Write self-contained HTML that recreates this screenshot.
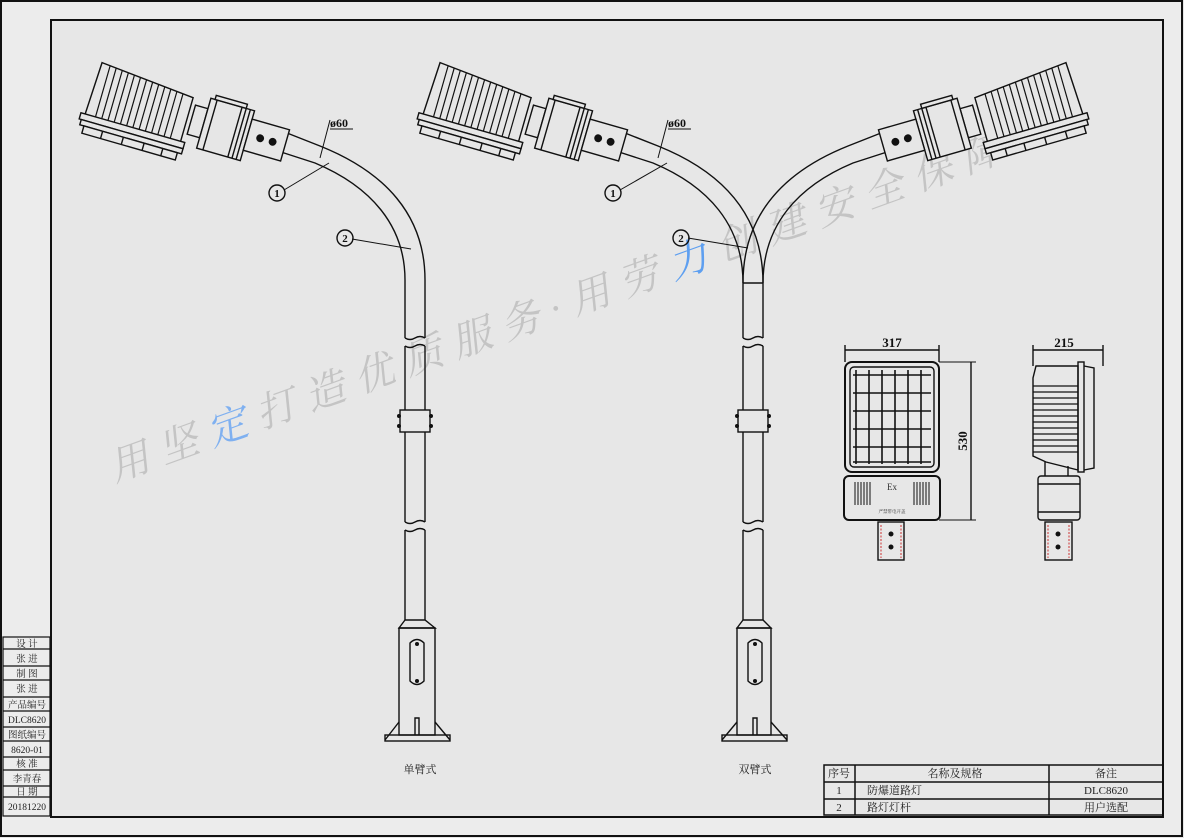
<!DOCTYPE html>
<html><head><meta charset="utf-8"><style>
html,body{margin:0;padding:0;background:#e6e6e6;}
svg{display:block}
text{font-family:"Liberation Serif","Noto Serif CJK SC",serif;}
</style></head><body>
<svg width="1184" height="838" viewBox="0 0 1184 838" xmlns="http://www.w3.org/2000/svg">
<defs>
<g id="lamp" stroke="#111" fill="#e6e6e6" stroke-width="1.3">
  <path d="M2,0 L92,8 L92,58 L0,52 Z"/>
  <g stroke-width="1.1">
    <line x1="10" y1="1" x2="10" y2="52"/><line x1="16" y1="1.5" x2="16" y2="53"/><line x1="22" y1="2" x2="22" y2="53"/>
    <line x1="28" y1="2.5" x2="28" y2="54"/><line x1="34" y1="3" x2="34" y2="54"/><line x1="40" y1="3.5" x2="40" y2="55"/>
    <line x1="46" y1="4" x2="46" y2="55"/><line x1="52" y1="4.5" x2="52" y2="56"/><line x1="58" y1="5" x2="58" y2="56"/>
    <line x1="64" y1="5.5" x2="64" y2="57"/><line x1="70" y1="6" x2="70" y2="57"/><line x1="76" y1="6.5" x2="76" y2="57"/>
    <line x1="82" y1="7" x2="82" y2="58"/>
  </g>
  <rect x="-4" y="50" width="100" height="6"/>
  <rect x="-2" y="56" width="98" height="5"/>
  <path d="M2,61 h90 v7 h-90 Z"/>
  <line x1="20" y1="61" x2="20" y2="68"/><line x1="40" y1="61" x2="40" y2="68"/><line x1="60" y1="61" x2="60" y2="68"/><line x1="78" y1="61" x2="78" y2="68"/>
  <g transform="translate(0,-12)">
    <rect x="96" y="26" width="12" height="28"/>
    <rect x="108" y="16" width="42" height="48"/>
    <line x1="114" y1="16" x2="114" y2="64"/>
    <line x1="138" y1="16" x2="138" y2="64"/><line x1="142" y1="16" x2="142" y2="64"/><line x1="146" y1="16" x2="146" y2="64"/>
    <rect x="112" y="12" width="30" height="4"/>
    <rect x="150" y="24" width="36" height="30"/>
    <circle cx="162" cy="39" r="3" fill="#111"/><circle cx="174" cy="39" r="3" fill="#111"/>
  </g>
</g>
</defs>

<rect x="1" y="1" width="1181" height="835" fill="#ececec" stroke="#111" stroke-width="2"/>
<rect x="51" y="20" width="1112" height="797" fill="#e7e7e7" stroke="#111" stroke-width="2"/>

<g transform="translate(115,482) rotate(-19.9)" font-size="40" fill="#c4c4c4" font-style="italic">
  <text x="0" y="0" letter-spacing="12" font-family="Liberation Serif,Noto Serif CJK SC,serif">用坚<tspan fill="#7fb0f0">定</tspan>打造优质服务·用劳<tspan fill="#5e9ff0">力</tspan>创建安全保障</text>
</g>

<g stroke="#111" stroke-width="1.2" fill="none">
  <rect x="3" y="637" width="47" height="179"/>
  <line x1="3" y1="649" x2="50" y2="649"/><line x1="3" y1="666" x2="50" y2="666"/>
  <line x1="3" y1="680" x2="50" y2="680"/><line x1="3" y1="697" x2="50" y2="697"/>
  <line x1="3" y1="711" x2="50" y2="711"/><line x1="3" y1="727" x2="50" y2="727"/>
  <line x1="3" y1="741" x2="50" y2="741"/><line x1="3" y1="757" x2="50" y2="757"/>
  <line x1="3" y1="770" x2="50" y2="770"/><line x1="3" y1="786" x2="50" y2="786"/>
  <line x1="3" y1="797" x2="50" y2="797"/>
</g>
<g font-size="9.5" fill="#222" text-anchor="middle">
  <text x="27" y="647">设  计</text><text x="27" y="662">张  进</text>
  <text x="27" y="677">制  图</text><text x="27" y="692">张  进</text>
  <text x="27" y="708">产品编号</text><text x="27" y="723">DLC8620</text>
  <text x="27" y="738">图纸编号</text><text x="27" y="753">8620-01</text>
  <text x="27" y="767">核  准</text><text x="27" y="782">李青春</text>
  <text x="27" y="795">日  期</text><text x="27" y="810">20181220</text>
</g>

<g stroke="#111" stroke-width="1.5" fill="none">
  <rect x="824" y="765" width="339" height="50"/>
  <line x1="824" y1="782" x2="1163" y2="782"/><line x1="824" y1="799" x2="1163" y2="799"/>
  <line x1="855" y1="765" x2="855" y2="815"/><line x1="1049" y1="765" x2="1049" y2="815"/>
</g>
<g font-size="11" fill="#222">
  <text x="839" y="777" text-anchor="middle">序号</text>
  <text x="955" y="777" text-anchor="middle">名称及规格</text>
  <text x="1106" y="777" text-anchor="middle">备注</text>
  <text x="839" y="794" text-anchor="middle">1</text>
  <text x="867" y="794">防爆道路灯</text>
  <text x="1106" y="794" text-anchor="middle">DLC8620</text>
  <text x="839" y="811" text-anchor="middle">2</text>
  <text x="867" y="811">路灯灯杆</text>
  <text x="1106" y="811" text-anchor="middle">用户选配</text>
</g>

<!-- single arm -->
<g stroke="#111" stroke-width="1.4" fill="none">
  <path d="M287,133 L320,146 C385,172 425,215 425,280 L425,338"/>
  <path d="M281,152 L315,163 C370,186 405,225 405,280 L405,338"/>
  <path d="M405,338 q5,3 10,0 t10,0"/>
  <path d="M405,346 q5,3 10,0 t10,0"/>
  <line x1="405" y1="346" x2="405" y2="410"/><line x1="425" y1="346" x2="425" y2="410"/>
  <rect x="400" y="410" width="30" height="22" fill="#e7e7e7"/>
  <line x1="405" y1="432" x2="405" y2="522"/><line x1="425" y1="432" x2="425" y2="522"/>
  <path d="M405,522 q5,3 10,0 t10,0"/>
  <path d="M405,530 q5,3 10,0 t10,0"/>
  <line x1="405" y1="530" x2="405" y2="620"/><line x1="425" y1="530" x2="425" y2="620"/>
  <path d="M405,620 L399,628 L435,628 L425,620 Z"/>
  <rect x="399" y="628" width="36" height="107"/>
  <path d="M410,643 Q417,636 424,643 L424,681 Q417,688 410,681 Z"/>
  <path d="M385,740 L399,722 M435,722 L450,740"/>
  <rect x="385" y="735" width="65" height="6"/>
  <path d="M415,735 L415,718 L419,718 L419,735"/>
</g>
<g fill="#111">
  <circle cx="399" cy="416" r="2"/><circle cx="431" cy="416" r="2"/><circle cx="399" cy="426" r="2"/><circle cx="431" cy="426" r="2"/>
  <circle cx="417" cy="644" r="2"/><circle cx="417" cy="681" r="2"/>
</g>
<use href="#lamp" transform="translate(100,62) rotate(16) scale(1.08)"/>
<g stroke="#111" stroke-width="1" fill="none">
  <line x1="320" y1="158" x2="330" y2="120"/><line x1="330" y1="129" x2="353" y2="129"/>
  <line x1="284" y1="190" x2="329" y2="163"/>
  <circle cx="277" cy="193" r="8" stroke-width="1.4"/>
  <line x1="352" y1="239" x2="411" y2="249"/>
  <circle cx="345" cy="238" r="8" stroke-width="1.4"/>
</g>
<g font-family="Liberation Sans,sans-serif" font-weight="bold" fill="#111">
  <text x="330" y="127" font-size="12">ø60</text>
  <text x="277" y="197" font-size="11" text-anchor="middle">1</text>
  <text x="345" y="242" font-size="11" text-anchor="middle">2</text>
</g>
<text x="420" y="773" font-size="11" text-anchor="middle" fill="#222">单臂式</text>

<!-- double arm -->
<g stroke="#111" stroke-width="1.4" fill="none">
  <path d="M625,133 L658,146 C723,172 763,215 763,283"/>
  <path d="M619,152 L653,163 C708,186 743,225 743,283"/>
  <path d="M881,133 L848,146 C783,172 743,215 743,283"/>
  <path d="M887,152 L853,163 C798,186 763,225 763,283"/>
  <line x1="743" y1="283" x2="763" y2="283"/>
  <line x1="743" y1="283" x2="743" y2="338"/><line x1="763" y1="283" x2="763" y2="338"/>
  <path d="M743,338 q5,3 10,0 t10,0"/>
  <path d="M743,346 q5,3 10,0 t10,0"/>
  <line x1="743" y1="346" x2="743" y2="410"/><line x1="763" y1="346" x2="763" y2="410"/>
  <rect x="738" y="410" width="30" height="22" fill="#e7e7e7"/>
  <line x1="743" y1="432" x2="743" y2="522"/><line x1="763" y1="432" x2="763" y2="522"/>
  <path d="M743,522 q5,3 10,0 t10,0"/>
  <path d="M743,530 q5,3 10,0 t10,0"/>
  <line x1="743" y1="530" x2="743" y2="620"/><line x1="763" y1="530" x2="763" y2="620"/>
  <path d="M743,620 L737,628 L771,628 L763,620 Z"/>
  <rect x="737" y="628" width="34" height="107"/>
  <path d="M748,643 Q755,636 762,643 L762,681 Q755,688 748,681 Z"/>
  <path d="M722,740 L737,722 M771,722 L787,740"/>
  <rect x="722" y="735" width="65" height="6"/>
  <path d="M753,735 L753,718 L757,718 L757,735"/>
</g>
<g fill="#111">
  <circle cx="737" cy="416" r="2"/><circle cx="769" cy="416" r="2"/><circle cx="737" cy="426" r="2"/><circle cx="769" cy="426" r="2"/>
  <circle cx="755" cy="644" r="2"/><circle cx="755" cy="681" r="2"/>
</g>
<use href="#lamp" transform="translate(438,62) rotate(16) scale(1.08)"/>
<use href="#lamp" transform="translate(1506,0) scale(-1,1) translate(438,62) rotate(16) scale(1.08)"/>
<g stroke="#111" stroke-width="1" fill="none">
  <line x1="658" y1="158" x2="668" y2="120"/><line x1="668" y1="129" x2="691" y2="129"/>
  <line x1="620" y1="190" x2="667" y2="163"/>
  <circle cx="613" cy="193" r="8" stroke-width="1.4"/>
  <line x1="688" y1="238" x2="748" y2="248"/>
  <circle cx="681" cy="238" r="8" stroke-width="1.4"/>
</g>
<g font-family="Liberation Sans,sans-serif" font-weight="bold" fill="#111">
  <text x="668" y="127" font-size="12">ø60</text>
  <text x="613" y="197" font-size="11" text-anchor="middle">1</text>
  <text x="681" y="242" font-size="11" text-anchor="middle">2</text>
</g>
<text x="755" y="773" font-size="11" text-anchor="middle" fill="#222">双臂式</text>

<!-- front view -->
<g stroke="#111" stroke-width="1.4" fill="none">
  <line x1="845" y1="350" x2="939" y2="350"/>
  <line x1="845" y1="345" x2="845" y2="362"/><line x1="939" y1="345" x2="939" y2="362"/>
  <rect x="845" y="362" width="94" height="110" rx="7" stroke-width="2"/>
  <rect x="850" y="367" width="84" height="100" rx="4"/>
  <g stroke-width="1.6">
    <line x1="856" y1="370" x2="856" y2="464"/><line x1="869" y1="370" x2="869" y2="464"/>
    <line x1="882" y1="370" x2="882" y2="464"/><line x1="895" y1="370" x2="895" y2="464"/>
    <line x1="908" y1="370" x2="908" y2="464"/><line x1="921" y1="370" x2="921" y2="464"/>
    <line x1="853" y1="375" x2="931" y2="375"/><line x1="853" y1="393" x2="931" y2="393"/>
    <line x1="853" y1="411" x2="931" y2="411"/><line x1="853" y1="429" x2="931" y2="429"/>
    <line x1="853" y1="447" x2="931" y2="447"/><line x1="853" y1="462" x2="931" y2="462"/>
  </g>
  <rect x="844" y="476" width="96" height="44" rx="5" stroke-width="2"/>
  <g stroke-width="1">
    <line x1="855" y1="482" x2="855" y2="505"/><line x1="858" y1="482" x2="858" y2="505"/><line x1="861" y1="482" x2="861" y2="505"/><line x1="864" y1="482" x2="864" y2="505"/><line x1="867" y1="482" x2="867" y2="505"/><line x1="870" y1="482" x2="870" y2="505"/>
    <line x1="914" y1="482" x2="914" y2="505"/><line x1="917" y1="482" x2="917" y2="505"/><line x1="920" y1="482" x2="920" y2="505"/><line x1="923" y1="482" x2="923" y2="505"/><line x1="926" y1="482" x2="926" y2="505"/><line x1="929" y1="482" x2="929" y2="505"/>
  </g>
  <rect x="878" y="522" width="26" height="38"/>
  <line x1="939" y1="362" x2="976" y2="362" stroke-width="1"/>
  <line x1="939" y1="520" x2="976" y2="520" stroke-width="1"/>
  <line x1="971" y1="362" x2="971" y2="520"/>
</g>
<g stroke="#c33" stroke-width="1" stroke-dasharray="2,1.5">
  <line x1="881" y1="525" x2="881" y2="558"/><line x1="901" y1="525" x2="901" y2="558"/>
</g>
<circle cx="891" cy="534" r="2.5" fill="#111"/><circle cx="891" cy="547" r="2.5" fill="#111"/>
<text x="892" y="490" font-size="9" text-anchor="middle" fill="#333">Ex</text>
<text x="892" y="513" font-size="4.5" text-anchor="middle" fill="#333">严禁带电开盖</text>
<text x="892" y="347" font-family="Liberation Sans,sans-serif" font-weight="bold" font-size="13" text-anchor="middle" fill="#111">317</text>
<text transform="translate(967,441) rotate(-90)" font-family="Liberation Sans,sans-serif" font-weight="bold" font-size="13" text-anchor="middle" fill="#111">530</text>

<!-- side view -->
<g stroke="#111" stroke-width="1.4" fill="none">
  <line x1="1033" y1="350" x2="1103" y2="350"/>
  <line x1="1033" y1="345" x2="1033" y2="366"/><line x1="1103" y1="345" x2="1103" y2="366"/>
  <path d="M1036,366 L1078,366 L1078,470 L1046,462 L1033,456 L1033,378 Z"/>
  <g stroke-width="1.2">
    <line x1="1033" y1="386" x2="1078" y2="386"/><line x1="1033" y1="392" x2="1078" y2="392"/><line x1="1033" y1="398" x2="1078" y2="398"/>
    <line x1="1033" y1="404" x2="1078" y2="404"/><line x1="1033" y1="410" x2="1078" y2="410"/><line x1="1033" y1="416" x2="1078" y2="416"/>
    <line x1="1033" y1="422" x2="1078" y2="422"/><line x1="1033" y1="428" x2="1078" y2="428"/><line x1="1033" y1="434" x2="1078" y2="434"/>
    <line x1="1033" y1="440" x2="1078" y2="440"/><line x1="1033" y1="446" x2="1078" y2="446"/><line x1="1033" y1="452" x2="1078" y2="452"/>
  </g>
  <rect x="1078" y="362" width="6" height="110"/>
  <path d="M1084,366 L1094,368 L1094,468 L1084,470"/>
  <line x1="1045" y1="462" x2="1045" y2="476"/><line x1="1068" y1="466" x2="1068" y2="476"/>
  <rect x="1038" y="476" width="42" height="44" rx="3"/>
  <line x1="1038" y1="484" x2="1080" y2="484"/><line x1="1038" y1="512" x2="1080" y2="512"/>
  <rect x="1045" y="522" width="27" height="38"/>
</g>
<g stroke="#c33" stroke-width="1" stroke-dasharray="2,1.5">
  <line x1="1048" y1="525" x2="1048" y2="558"/><line x1="1069" y1="525" x2="1069" y2="558"/>
</g>
<circle cx="1058" cy="534" r="2.5" fill="#111"/><circle cx="1058" cy="547" r="2.5" fill="#111"/>
<text x="1064" y="347" font-family="Liberation Sans,sans-serif" font-weight="bold" font-size="13" text-anchor="middle" fill="#111">215</text>
</svg>
</body></html>
